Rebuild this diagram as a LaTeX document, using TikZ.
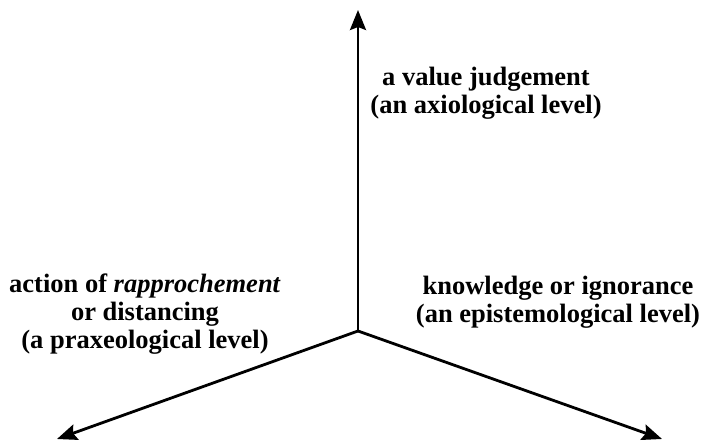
\documentclass[tikz,border=0pt]{standalone}
\usepackage{fontspec}
\setmainfont{Liberation Serif}
\usetikzlibrary{arrows.meta}
\begin{document}
\begin{tikzpicture}[x=1pt,y=-1pt,
  axis/.style={line width=2.8pt,-{Stealth[length=20pt,width=16pt,inset=3pt]}},
  lbl/.style={align=center,font=\fontsize{26.5}{28}\selectfont\bfseries,inner sep=0pt}]
\useasboundingbox (0,0) rectangle (704,441);
\coordinate (o) at (358,331);
\coordinate (up) at (358,10);
\coordinate (lf) at (57,439);
\coordinate (rt) at (662,439);
\draw[axis] (o) -- (up);
\draw[axis] (o) -- (lf);
\draw[axis] (o) -- (rt);
\node[lbl] (top) at (486,93) {a value judgement\\(an axiological level)};
\node[lbl] (left) at (145,314) {action of \textit{rapprochement}\\or distancing\\(a praxeological level)};
\node[lbl] (right) at (558,302) {knowledge or ignorance\\(an epistemological level)};
\end{tikzpicture}
\end{document}
